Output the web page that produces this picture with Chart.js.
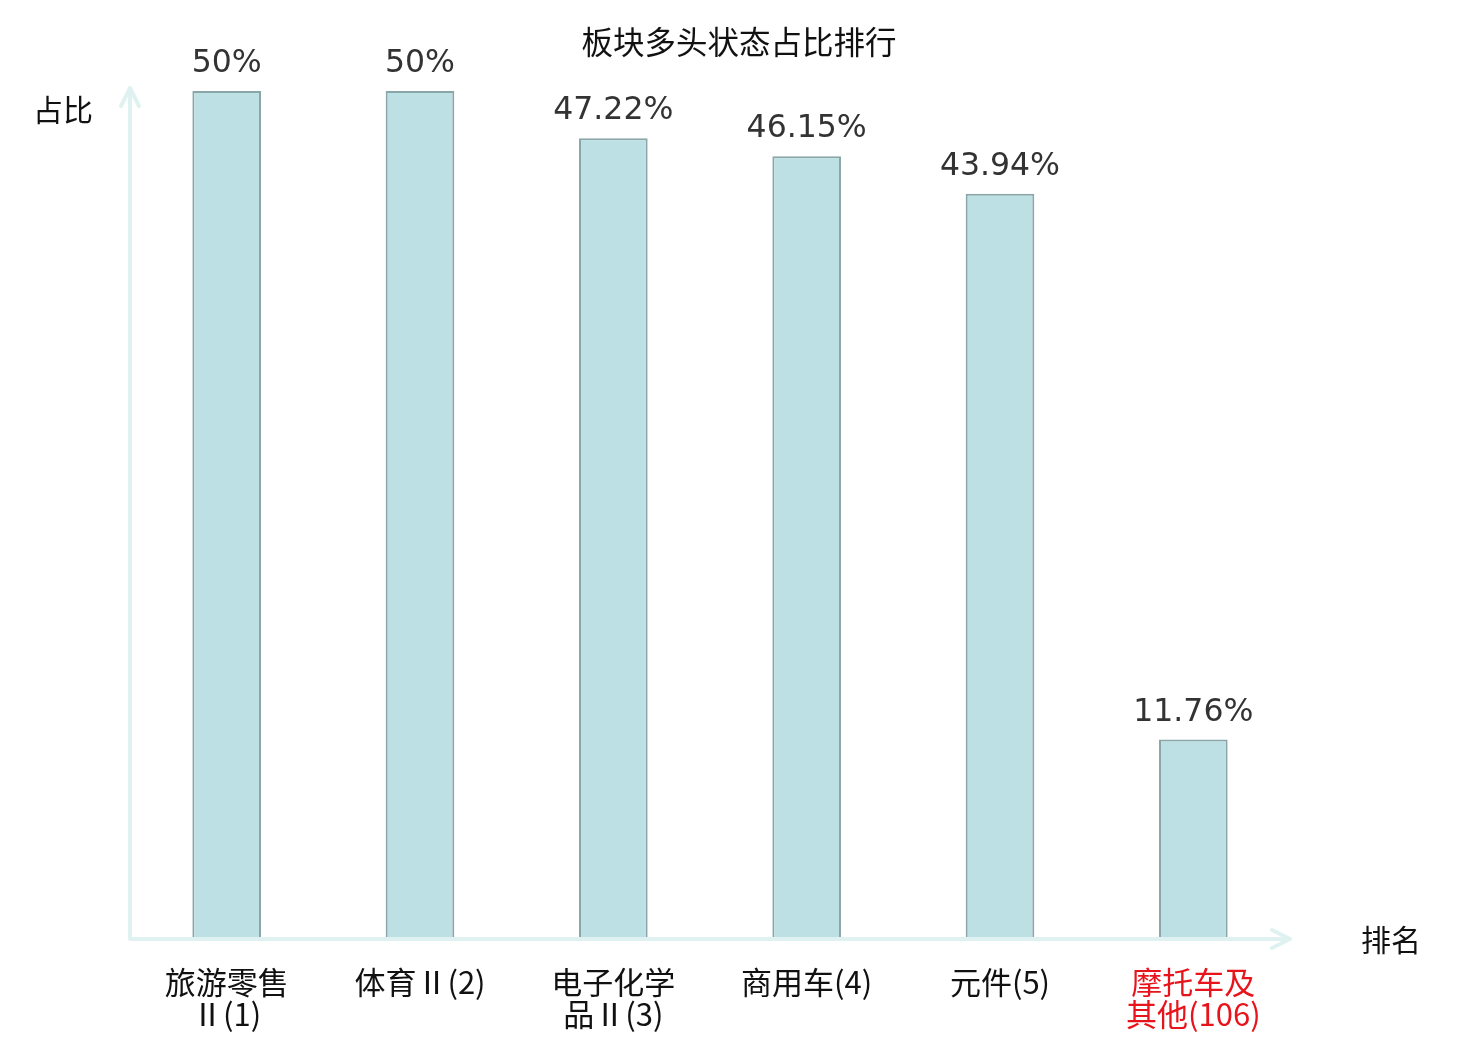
<!DOCTYPE html>
<html>
<head>
<meta charset="utf-8">
<script src="https://cdn.jsdelivr.net/npm/chart.js@4.4.1/dist/chart.umd.min.js"></script>
<style>
  html, body { margin: 0; padding: 0; background: #fff; }
  #wrap { width: 1480px; height: 1040px; }
</style>
</head>
<body>
<div id="wrap"><canvas id="chart" width="1480" height="1040"></canvas></div>
<script>
// data
const categories = [
    ["旅游零售", "Ⅱ(1)"],
    ["体育Ⅱ(2)"],
    ["电子化学", "品Ⅱ(3)"],
    ["商用车(4)"],
    ["元件(5)"],
    ["摩托车及", "其他(106)"]
];
const ratios = [50, 50, 47.22, 46.15, 43.94, 11.76];
const highlightIndex = 5;

const axisColor = '#dff2f1';
const cjk = '"Noto Sans CJK SC", "Noto Sans", sans-serif';

// axes with arrows, title, axis names and value labels
const decorPlugin = {
    id: 'decor',
    afterDatasetsDraw(chart) {
        const ctx = chart.ctx;
        const area = chart.chartArea;
        const x0 = area.left, y0 = area.bottom;

        ctx.save();
        ctx.strokeStyle = axisColor;
        ctx.lineWidth = 4;
        ctx.lineCap = 'round';
        ctx.lineJoin = 'round';
        // x axis
        ctx.beginPath();
        ctx.moveTo(x0, y0);
        ctx.lineTo(area.right, y0);
        ctx.moveTo(area.right - 18, y0 - 9);
        ctx.lineTo(area.right, y0);
        ctx.lineTo(area.right - 18, y0 + 9);
        // y axis
        ctx.moveTo(x0, y0);
        ctx.lineTo(x0, area.top - 3);
        ctx.moveTo(x0 - 9, area.top + 15);
        ctx.lineTo(x0, area.top - 3);
        ctx.lineTo(x0 + 9, area.top + 15);
        ctx.stroke();

        // value labels
        const meta = chart.getDatasetMeta(0);
        ctx.fillStyle = '#333333';
        ctx.font = '31.5px "DejaVu Sans", sans-serif';
        ctx.textAlign = 'center';
        ctx.textBaseline = 'middle';
        meta.data.forEach((bar, i) => {
            ctx.fillText(ratios[i] + '%', bar.x, bar.y - 27);
        });

        // title and axis names
        ctx.fillStyle = '#111111';
        ctx.font = '31.5px ' + cjk;
        ctx.fillText('板块多头状态占比排行', 739, 42);
        ctx.font = '30px ' + cjk;
        ctx.fillText('占比', 63, 110);
        ctx.fillText('排名', 1391, 940);
        ctx.restore();
    }
};

const config = {
    type: 'bar',
    data: {
        labels: categories,
        datasets: [{
            data: ratios,
            backgroundColor: '#bce0e3',
            borderColor: '#8aa6a8',
            borderWidth: 2,
            borderSkipped: 'bottom',
            barPercentage: 0.355,
            categoryPercentage: 1.0
        }]
    },
    plugins: [decorPlugin],
    options: {
        responsive: false,
        animation: false,
        layout: {
            padding: { left: 130, right: 190, top: 91, bottom: 0 }
        },
        scales: {
            x: {
                grid: { display: false },
                border: { display: false },
                ticks: {
                    padding: 19,
                    font: { size: 31, family: cjk, lineHeight: 1.03 },
                    color: (c) => c.index === highlightIndex ? '#e8141b' : '#111111',
                    maxRotation: 0,
                    autoSkip: false
                },
                afterFit(scale) { scale.height = 101; }
            },
            y: {
                display: false,
                min: 0,
                max: 50
            }
        },
        plugins: {
            legend: { display: false },
            tooltip: { enabled: false }
        }
    }
};

new Chart(document.getElementById('chart'), config);
</script>
</body>
</html>
